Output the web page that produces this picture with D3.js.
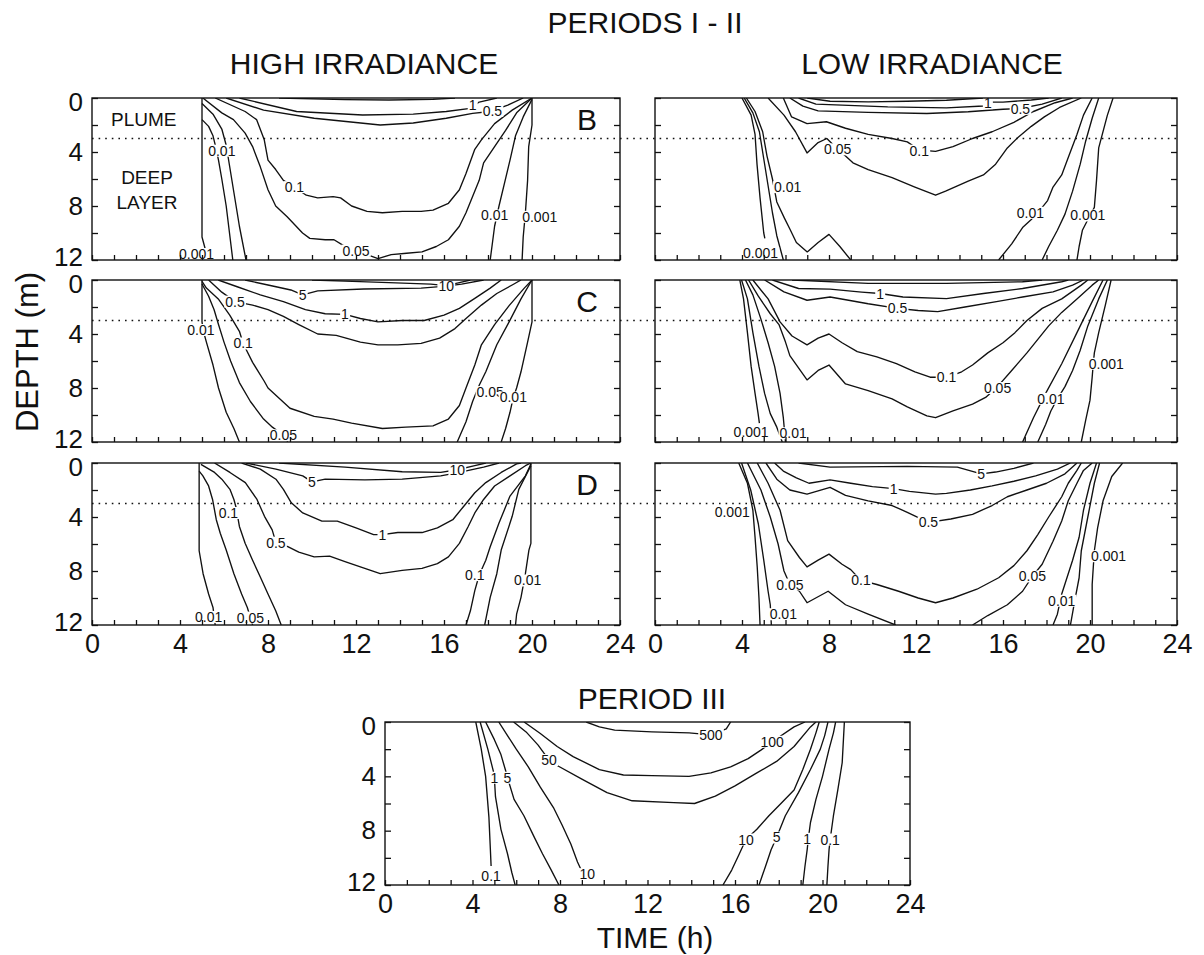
<!DOCTYPE html>
<html><head><meta charset="utf-8">
<script src="https://cdn.jsdelivr.net/npm/d3@7"></script>
<style>body{margin:0;background:#fff;} svg{display:block;}</style>
</head><body><svg id="chart" width="1204" height="955"></svg>
<script>
// ---------- axis data ----------
const timeTicks = d3.range(0, 25);
const timeLabels = [0, 4, 8, 12, 16, 20, 24];
const depthTicks = [0, 2, 4, 6, 8, 10, 12];
const depthLabels = [0, 4, 8, 12];
const plumeDepth = 3;

// ---------- contour data: points are [time (h), depth (m)] ----------
const contoursB_high = [
  {level:"0.001", pts:[[5,0],[5,10.3],[5.15,11.2],[5.25,12]], lab:[4.75,11.55]},
  {level:"0.01", pts:[[5,1.6],[5.3,2.1],[5.5,2.8],[5.62,3.6],[5.75,4.6],[5.9,6],[6.1,8],[6.25,10],[6.4,12]], lab:[5.9,3.9]},
  {level:"", pts:[[5,0.4],[5.5,1.2],[5.9,2.3],[6.1,3.5],[6.25,5],[6.45,7],[6.7,9.5],[7.0,12]], lab:null},
  {level:"0.05", pts:[[5.04,0],[5.9,1.1],[6.43,1.6],[6.96,2.6],[7.3,3.6],[7.65,5.1],[8.0,6.8],[8.35,8.0],[8.87,8.8],[9.57,10.0],[9.9,10.4],[10.6,10.5],[11.0,10.5],[11.4,10.9],[12.0,11.3],[13.0,11.9],[13.6,11.6],[14.3,11.5],[15.0,11.4],[15.65,11.0],[16.2,10.5],[16.7,9.5],[17.0,8.5],[17.3,7.3],[17.6,6.1],[17.8,4.8],[18.3,3.6],[18.8,2.4],[19.3,1.1],[20,0]], lab:[12.0,11.3]},
  {level:"0.1", pts:[[5.6,0],[6.96,1.0],[7.48,1.6],[7.83,3.1],[8.0,4.6],[8.35,5.3],[8.7,6.1],[9.2,6.6],[9.74,7.2],[10.26,7.4],[10.96,7.3],[11.3,7.4],[11.8,8.0],[12.5,8.4],[13.2,8.5],[14.1,8.4],[14.96,8.4],[15.5,8.3],[16.2,7.8],[16.7,6.8],[17.0,5.6],[17.4,3.8],[17.7,3.1],[18.3,1.9],[19.1,0.9],[20,0]], lab:[9.2,6.6]},
  {level:"0.5", pts:[[6.1,0],[7.8,0.9],[10.1,1.5],[13.1,2.0],[14.6,1.85],[16.1,1.5],[17.3,1.14],[18.1,1.0],[18.9,0.52],[19.6,0]], lab:[18.2,0.95]},
  {level:"1", pts:[[6.7,0],[9.3,1.0],[12.3,1.26],[14.6,1.2],[16.1,1.0],[17.2,0.77],[17.6,0.3],[18.4,0]], lab:[17.3,0.5]},
  {level:"", pts:[[8.5,0],[11.5,0.12],[13.5,0.15],[15.5,0.1],[16.5,0]], lab:null},
  {level:"0.01", pts:[[20,0.1],[19.6,1.4],[19.25,2.8],[19.0,4.6],[18.75,6.3],[18.5,8.0],[18.3,9.5],[18.1,12]], lab:[18.3,8.7]},
  {level:"0.001", pts:[[20,0],[20,2],[19.85,3.6],[19.8,6.1],[19.7,8.5],[19.6,10.3],[19.55,12]], lab:[20.35,8.8]}
];

const contoursB_low = [
  {level:"0.001", pts:[[4.0,0],[4.42,1.27],[4.6,2.7],[4.69,4.9],[4.83,7.4],[5.0,10.0],[5.05,10.4]], lab:[4.85,11.5]},
  {level:"", pts:[[4.1,0],[4.5,1.1],[4.8,2.5],[5.0,4.5],[5.2,6.5],[5.4,8.5],[5.6,10.2],[5.9,12]], lab:null},
  {level:"0.01", pts:[[4.2,0],[4.6,1.0],[4.95,2.5],[5.15,4.3],[5.4,6.0],[5.6,7.7],[5.95,8.9],[6.2,9.7],[6.5,10.7],[7.0,11.4],[7.5,10.7],[8.0,10.1],[8.5,11.0],[9.0,12]], lab:[6.1,6.6]},
  {level:"0.05", pts:[[5.2,0],[5.93,1.27],[6.46,2.5],[6.99,4.07],[7.5,3.3],[7.9,3.0],[8.4,3.8],[8.76,4.3],[9.1,4.8],[9.8,5.3],[10.9,5.9],[11.95,6.6],[12.9,7.2],[13.36,6.9],[14.4,6.15],[15.1,5.7],[15.66,4.9],[16.2,3.7],[16.7,2.9],[17.3,2.1],[17.9,1.4],[18.6,0.7],[19.6,0]], lab:[8.4,3.8]},
  {level:"0.1", pts:[[5.9,0],[6.28,1.4],[6.99,1.9],[7.88,1.76],[8.76,2.24],[9.8,2.7],[10.9,3.0],[11.6,3.25],[12.15,3.85],[12.9,3.95],[13.7,3.6],[14.6,3.0],[15.5,2.5],[16.5,1.8],[17.4,1.0],[18.4,0.35],[19.2,0]], lab:[12.15,3.9]},
  {level:"0.5", pts:[[6.2,0],[6.8,0.6],[7.5,0.95],[9.8,1.07],[12.5,1.15],[14.4,1.02],[16.0,0.83],[16.8,0.78],[17.8,0.45],[18.7,0]], lab:[16.8,0.8]},
  {level:"1", pts:[[6.6,0],[7.4,0.45],[10.7,0.66],[13.4,0.73],[15.1,0.59],[15.3,0.3],[16,0.3],[17.3,0.15],[18.1,0]], lab:[15.3,0.38]},
  {level:"", pts:[[7.0,0],[8.05,0.24],[9.8,0.29],[11.6,0.24],[13.4,0.17],[15.1,0]], lab:null},
  {level:"0.01", pts:[[20.1,0],[19.7,1.27],[19.4,2.7],[19.0,4.4],[18.7,5.7],[18.3,6.6],[18.05,7.6],[17.7,8.3],[17.3,9.0],[16.9,9.6],[16.4,10.8],[15.8,12]], lab:[17.26,8.5]},
  {level:"", pts:[[20.4,0],[20.1,1.5],[19.8,3.2],[19.55,4.9],[19.2,6.9],[18.85,8.6],[18.5,9.8],[18.1,11],[17.8,12]], lab:null},
  {level:"0.001", pts:[[21.06,0],[20.8,1.27],[20.4,3.7],[20.3,6.1],[20.2,8.1],[20.0,8.7],[19.65,9.8],[19.5,11],[19.4,12]], lab:[19.9,8.7]}
];

const contoursC_high = [
  {level:"0.01", pts:[[5,0],[5,3.1],[5.05,3.7],[5.2,4.6],[5.5,6.3],[5.75,8],[6.1,9.8],[6.45,11],[6.7,12]], lab:[4.95,3.7]},
  {level:"0.05", pts:[[5.0,0.3],[5.3,1.2],[5.55,2.2],[5.75,3.3],[6.0,4.6],[6.3,6],[6.7,7.6],[7.2,9],[7.8,10.3],[8.2,10.9],[8.7,11.5],[8.9,12]], lab:[8.7,11.5]},
  {level:"0.1", pts:[[5.0,0.1],[5.2,0.6],[5.74,1.4],[6.26,2.6],[6.7,3.8],[6.87,4.7],[7.3,6.1],[7.83,7.5],[8.0,8.0],[9.0,9.5],[10.1,10.1],[10.96,10.3],[11.8,10.6],[13.2,11.0],[14.26,10.9],[15.5,10.8],[16.2,10.3],[16.7,9.3],[17.0,8.0],[17.4,6.3],[17.7,4.8],[18.3,3.3],[18.96,1.9],[19.65,0.6],[20,0]], lab:[6.87,4.7]},
  {level:"0.5", pts:[[5.3,0],[5.9,0.9],[6.5,1.6],[7.3,1.86],[8.0,2.2],[8.7,2.7],[9.4,3.3],[10.26,4.0],[11.1,4.1],[12.2,4.6],[13.0,4.8],[13.9,4.8],[14.96,4.7],[15.8,4.3],[16.5,3.6],[17.0,2.85],[17.7,1.86],[18.4,1.0],[19.1,0.37],[19.5,0]], lab:[6.5,1.6]},
  {level:"1", pts:[[5.74,0],[6.6,0.5],[7.65,1.1],[8.7,1.6],[9.7,2.2],[10.6,2.5],[11.5,2.55],[12.2,2.85],[13.0,3.1],[14.1,3.0],[15.1,3.0],[16.0,2.6],[16.7,2.1],[17.4,1.36],[18.1,0.6],[18.6,0]], lab:[11.5,2.55]},
  {level:"5", pts:[[6.96,0],[8.0,0.37],[9.04,0.74],[9.57,1.1],[10.26,0.8],[12.35,0.67],[14.96,0.6],[16.1,0.45],[16.8,0.3],[17.8,0]], lab:[9.57,1.1]},
  {level:"10", pts:[[10,0],[11.5,0.08],[13.5,0.2],[15.4,0.3],[16.1,0.42],[16.7,0.2],[17.2,0]], lab:[16.1,0.45]},
  {level:"0.05", pts:[[20,0],[19.5,1.4],[18.96,3.1],[18.4,4.8],[17.9,6.8],[17.6,7.8],[17.3,9.0],[17.0,10.5],[16.6,12]], lab:[18.1,8.3]},
  {level:"0.01", pts:[[20,0],[20,3.1],[19.8,4.6],[19.5,6.8],[19.3,8.0],[19.15,8.7],[19.0,9.8],[18.8,11],[18.6,12]], lab:[19.15,8.7]}
];

const contoursC_low = [
  {level:"0.001", pts:[[3.9,0],[4.07,1.4],[4.25,3.9],[4.42,6.4],[4.6,8.4],[4.74,9.9],[4.8,10.6]], lab:[4.42,11.25]},
  {level:"0.01", pts:[[3.98,0],[4.25,1.4],[4.5,3.9],[4.78,6.4],[5.04,8.4],[5.3,9.9],[5.6,10.9],[5.85,12]], lab:[6.35,11.35]},
  {level:"", pts:[[4.16,0],[4.5,1.1],[4.87,2.9],[5.2,4.65],[5.5,6.4],[5.75,8.4],[5.9,10.2],[6.0,12]], lab:null},
  {level:"0.05", pts:[[4.3,0],[4.75,1.2],[5.3,2.5],[5.7,3.3],[6.0,4.6],[6.2,5.6],[6.46,6.2],[6.99,7.4],[7.5,6.7],[8.0,6.3],[8.76,7.7],[9.8,8.2],[10.9,8.8],[11.6,9.4],[12.5,10.06],[12.9,10.2],[13.7,9.7],[14.6,9.2],[15.2,8.7],[15.75,7.9],[16.4,6.7],[17.1,5.4],[17.6,4.4],[18.1,3.4],[18.7,2.4],[19.4,1.4],[20.1,0.38],[20.4,0]], lab:[15.75,8.0]},
  {level:"0.1", pts:[[4.5,0],[5.2,1.4],[5.75,3.1],[6.3,4.15],[6.99,4.8],[7.5,4.3],[8.0,4.0],[8.6,4.65],[9.3,5.3],[10.2,5.7],[11.1,6.2],[11.95,6.8],[12.65,7.2],[13.45,7.2],[14.1,6.8],[14.6,6.3],[15.3,5.4],[16.0,4.65],[16.55,3.9],[17.1,3.0],[17.8,2.1],[18.7,1.4],[19.6,0.38],[19.9,0]], lab:[13.4,7.2]},
  {level:"0.5", pts:[[5.04,0],[5.93,0.88],[6.99,1.5],[8.05,1.26],[8.9,1.5],[9.8,1.76],[11.15,2.1],[12.1,2.26],[13.0,2.34],[14.25,2.0],[15.7,1.6],[16.9,1.26],[18.3,0.88],[19.2,0.38],[19.7,0]], lab:[11.15,2.1]},
  {level:"1", pts:[[5.4,0],[6.6,0.63],[8.05,0.68],[9.5,0.9],[10.35,1.0],[11.4,1.26],[13.4,1.38],[15.1,1.0],[16.9,0.63],[18.7,0.13],[19.0,0]], lab:[10.35,1.0]},
  {level:"", pts:[[6.3,0],[9.8,0.25],[13.4,0.25],[16.9,0.13],[17.8,0]], lab:null},
  {level:"0.01", pts:[[20.8,0],[20.4,1.4],[19.9,3.4],[19.55,5.2],[19.2,6.7],[18.85,7.9],[18.5,8.8],[18.2,9.7],[17.96,10.7],[17.6,12]], lab:[18.2,8.8]},
  {level:"", pts:[[20.6,0],[20.1,1.6],[19.4,3.9],[18.7,6.2],[17.96,8.4],[17.4,10.2],[16.9,12]], lab:null},
  {level:"0.001", pts:[[20.97,0],[20.7,1.9],[20.4,3.9],[20.2,5.4],[20.15,6.2],[20.1,7.2],[20.0,8.9],[19.8,10.4],[19.6,12]], lab:[20.75,6.2]}
];

const contoursD_high = [
  {level:"0.01", pts:[[4.87,0],[4.87,6.5],[5.05,8.2],[5.3,9.7],[5.5,10.7],[5.6,12]], lab:[5.3,11.4]},
  {level:"0.05", pts:[[4.87,0.6],[5.04,0.95],[5.3,1.7],[5.48,2.7],[5.65,4.2],[5.83,5.2],[6.1,6.45],[6.45,8.2],[6.8,9.7],[7.06,10.7],[7.3,12]], lab:[7.2,11.45]},
  {level:"0.1", pts:[[4.95,0.1],[5.57,0.7],[5.9,1.2],[6.27,1.95],[6.45,2.7],[6.55,3.3],[6.7,4.7],[6.96,5.95],[7.3,7.2],[7.65,8.45],[8.0,9.7],[8.35,10.95],[8.6,12]], lab:[6.2,3.7]},
  {level:"0.5", pts:[[5.57,0],[6.27,0.7],[6.97,1.45],[7.5,2.7],[7.84,3.95],[8.19,4.95],[8.36,5.9],[8.9,6.2],[9.4,6.6],[10.1,6.95],[10.8,6.9],[11.5,7.3],[12.4,7.8],[13.1,8.2],[14.1,7.95],[15.0,7.8],[15.7,7.45],[16.2,6.95],[16.7,5.95],[17.1,4.7],[17.4,3.7],[17.8,2.7],[18.3,1.7],[19.0,0.95],[19.7,0.2],[19.95,0]], lab:[8.36,5.9]},
  {level:"1", pts:[[6.8,0],[7.65,0.45],[8.36,1.2],[8.7,1.95],[9.06,2.95],[9.58,3.7],[10.45,4.3],[11.15,4.3],[12.0,4.8],[12.8,5.3],[13.2,5.3],[13.9,5.15],[15.0,5.15],[15.7,4.8],[16.4,4.2],[16.9,3.2],[17.4,2.2],[17.9,1.45],[18.6,0.7],[19.3,0.07],[19.5,0]], lab:[13.2,5.3]},
  {level:"5", pts:[[7.0,0],[8.36,0.45],[9.58,0.95],[10.0,1.4],[10.6,1.2],[12.4,1.25],[14.1,1.2],[15.85,0.95],[16.7,0.7],[17.8,0.3],[18.5,0]], lab:[10.0,1.4]},
  {level:"10", pts:[[8.5,0],[11.5,0.3],[14.1,0.65],[15.85,0.7],[16.6,0.5],[17.4,0.2],[17.9,0]], lab:[16.6,0.5]},
  {level:"0.1", pts:[[19.95,0.07],[19.7,0.95],[19.0,2.45],[18.5,4.45],[18.1,6.2],[17.9,7.2],[17.6,8.3],[17.4,9.45],[17.2,10.95],[17.0,12]], lab:[17.4,8.3]},
  {level:"", pts:[[19.95,0.2],[19.4,1.95],[19.1,3.95],[18.6,6.45],[18.4,8.2],[18.1,9.95],[17.85,12]], lab:null},
  {level:"0.01", pts:[[19.95,0],[19.95,5.95],[19.86,6.45],[19.7,8.2],[19.5,9.95],[19.3,11.2],[19.25,12]], lab:[19.8,8.7]}
];

const contoursD_low = [
  {level:"0.001", pts:[[3.85,0],[4.25,1.5],[4.5,3.5],[4.6,5.5],[4.7,7.7],[4.78,10],[4.83,12]], lab:[3.55,3.65]},
  {level:"0.01", pts:[[3.98,0],[4.4,2],[4.75,4.5],[5.0,7.2],[5.2,9.5],[5.3,10.5],[5.35,12]], lab:[5.9,11.2]},
  {level:"0.05", pts:[[4.25,0],[4.87,2.0],[5.3,4.0],[5.66,6.0],[5.93,8.0],[6.2,9.0],[6.64,9.5],[6.99,10.35],[7.96,9.5],[8.76,10.5],[9.8,11.2],[11.06,12]], lab:[6.2,9.0]},
  {level:"0.05", pts:[[14.6,12],[15.3,11.3],[16.2,10.5],[16.9,9.5],[17.35,8.4],[17.8,7.5],[18.3,5.8],[18.7,4.3],[19.0,2.8],[19.4,1.5],[19.7,0.55],[20.1,0]], lab:[17.35,8.4]},
  {level:"0.1", pts:[[4.7,0],[5.2,1.5],[5.75,3.5],[6.1,5.75],[6.64,7.0],[6.99,7.7],[7.5,7.2],[8.0,6.75],[8.6,7.5],[9.0,7.9],[9.47,8.7],[10.2,9.0],[11.2,9.5],[12.1,10],[12.9,10.35],[13.7,10],[14.8,9.35],[15.8,8.5],[16.5,7.6],[17.1,6.5],[17.6,5.3],[18.1,4.0],[18.7,2.5],[19.0,1.5],[19.4,0.55],[19.6,0]], lab:[9.47,8.7]},
  {level:"0.5", pts:[[5.1,0],[5.6,1.2],[6.2,2.0],[6.99,2.3],[8.05,1.8],[8.76,2.4],[9.8,2.8],[10.9,3.15],[11.6,3.65],[12.57,4.4],[13.6,4.15],[14.6,3.8],[15.5,3.15],[16.2,2.5],[17.1,2.0],[18.0,1.5],[18.85,0.8],[19.4,0]], lab:[12.57,4.4]},
  {level:"1", pts:[[5.5,0],[5.9,0.6],[6.5,1.1],[7.08,1.5],[8.05,1.25],[9.0,1.5],[10.0,1.75],[10.97,1.9],[11.7,2.1],[12.9,2.3],[13.4,2.25],[14.5,2.0],[15.5,1.7],[16.5,1.35],[17.5,0.95],[18.5,0.45],[19.1,0]], lab:[10.97,1.9]},
  {level:"5", pts:[[6.6,0],[8.05,0.3],[11.6,0.25],[13.9,0.3],[15.0,0.8],[15.66,0.67],[16.5,0.4],[17.4,0]], lab:[15.0,0.8]},
  {level:"0.01", pts:[[20.3,0],[20.0,1.5],[19.7,3.5],[19.5,5.5],[19.2,7.2],[18.9,8.7],[18.7,9.7],[18.5,11.2],[18.3,12]], lab:[18.7,10.2]},
  {level:"", pts:[[20.44,0],[20.2,1.5],[19.9,4.0],[19.6,6.5],[19.5,8.5],[19.3,10.2],[19.1,12]], lab:null},
  {level:"0.001", pts:[[21.5,0],[21.0,1.0],[20.6,2.8],[20.35,4.8],[20.2,6.5],[20.1,9.0],[20.1,12]], lab:[20.85,6.9]}
];

const contoursIII = [
  {level:"0.1", pts:[[4.15,0],[4.4,2],[4.6,4],[4.75,7],[4.82,9.5],[4.85,10.6]], lab:[4.85,11.3]},
  {level:"1", pts:[[4.35,0],[4.7,2],[4.95,3.6],[5.0,4.1],[5.05,5.5],[5.3,7.9],[5.6,9.7],[5.8,11.1],[5.95,12]], lab:[5.0,4.1]},
  {level:"5", pts:[[4.6,0],[5.0,1.3],[5.3,2.4],[5.5,3.5],[5.6,4.1],[5.9,5.7],[6.35,6.9],[6.8,8.4],[7.2,9.7],[7.6,10.9],[7.95,12]], lab:[5.6,4.1]},
  {level:"10", pts:[[5.2,0],[5.6,1.0],[6.0,2.0],[6.55,3.3],[7.1,4.8],[7.7,6.3],[8.1,7.6],[8.5,9.0],[8.8,10.3],[9.0,11.0]], lab:[9.25,11.2]},
  {level:"50", pts:[[5.88,0],[6.45,0.73],[7.0,1.7],[7.5,2.8],[7.87,3.2],[9.0,4.2],[10.15,5.2],[11.3,5.8],[13.2,5.94],[14.15,6.0],[15.1,5.45],[16.0,4.7],[17.0,3.75],[17.9,2.9],[18.7,1.8],[19.45,0.36],[19.7,0]], lab:[7.5,2.8]},
  {level:"100", pts:[[6.36,0],[7.1,0.85],[7.87,1.8],[8.6,2.55],[9.8,3.5],[10.9,3.9],[12.2,3.95],[13.9,4.0],[14.9,3.75],[15.8,3.3],[16.6,2.7],[17.2,2.05],[17.7,1.45],[18.7,0.36],[19.2,0]], lab:[17.7,1.45]},
  {level:"500", pts:[[9.2,0],[9.8,0.36],[10.5,0.6],[12.2,0.73],[13.9,0.8],[14.9,0.95],[15.6,0.5],[15.8,0]], lab:[14.9,0.95]},
  {level:"10", pts:[[15.45,12],[15.85,10.9],[16.2,9.7],[16.5,8.65],[17.0,7.9],[17.55,6.9],[18.1,6.0],[18.7,5.0],[19.1,3.5],[19.45,2.0],[19.7,0.8],[19.85,0]], lab:[16.5,8.65]},
  {level:"5", pts:[[17.1,12],[17.4,10.6],[17.65,9.4],[17.9,8.5],[18.3,6.9],[18.9,5.2],[19.45,3.5],[19.9,2.0],[20.1,1.0],[20.25,0]], lab:[17.9,8.5]},
  {level:"1", pts:[[19.1,12],[19.2,10.6],[19.3,9.4],[19.35,8.6],[19.45,7.4],[19.7,5.7],[20.0,4.0],[20.3,2.0],[20.5,0.8],[20.6,0]], lab:[19.3,8.6]},
  {level:"0.1", pts:[[20.2,12],[20.25,10.6],[20.3,9.4],[20.35,8.65],[20.5,6.9],[20.7,5.0],[20.9,3.0],[21.0,0]], lab:[20.35,8.65]}
];

// ---------- layout ----------
const FONT = '"Liberation Sans", Arial, Helvetica, sans-serif';
const INK = "#111";
const panels = [
  {id:"bh", data:contoursB_high, x:92,  y:98,  w:528, h:162, letter:"B", yLab:true,  xLab:false, plume:true},
  {id:"bl", data:contoursB_low,  x:655, y:98,  w:522, h:162, letter:null, yLab:false, xLab:false},
  {id:"ch", data:contoursC_high, x:92,  y:280, w:528, h:162, letter:"C", yLab:true,  xLab:false},
  {id:"cl", data:contoursC_low,  x:655, y:280, w:522, h:162, letter:null, yLab:false, xLab:false},
  {id:"dh", data:contoursD_high, x:92,  y:463, w:528, h:162, letter:"D", yLab:true,  xLab:true},
  {id:"dl", data:contoursD_low,  x:655, y:463, w:522, h:162, letter:null, yLab:false, xLab:true},
  {id:"p3", data:contoursIII,    x:385, y:722, w:525, h:163, letter:null, yLab:true,  xLab:true}
];

const svg = d3.select("#chart").style("font-family", FONT);

function styleAxis(a, fs) {
  a.select(".domain").remove();
  a.selectAll(".tick line").attr("stroke", INK).attr("stroke-width", 1.3);
  a.selectAll(".tick text").attr("fill", INK).attr("font-size", fs).attr("font-family", FONT);
}

panels.forEach(p => {
  const g = svg.append("g").attr("transform", `translate(${p.x},${p.y})`);
  const x = d3.scaleLinear().domain([0, 24]).range([0, p.w]);
  const y = d3.scaleLinear().domain([0, 12]).range([0, p.h]);
  p.xs = x; p.ys = y;
  const cid = "clip-" + p.id;
  g.append("clipPath").attr("id", cid).append("rect").attr("width", p.w).attr("height", p.h);
  const cg = g.append("g").attr("clip-path", `url(#${cid})`);
  const line = d3.line().x(d => x(d[0])).y(d => y(d[1]));
  cg.selectAll("path.contour").data(p.data).join("path")
    .attr("class", "contour").attr("d", d => line(d.pts))
    .attr("fill", "none").attr("stroke", INK).attr("stroke-width", 1.35)
    .attr("stroke-linejoin", "round");
  p.g = g; p.cg = cg;
});

// plume boundary dotted lines across each row
[0, 2, 4].forEach(i => {
  const p = panels[i], q = panels[i + 1];
  const yy = p.y + p.ys(plumeDepth);
  svg.append("line").attr("x1", p.x).attr("x2", q.x + q.w).attr("y1", yy).attr("y2", yy)
    .attr("stroke", INK).attr("stroke-width", 1.6).attr("stroke-dasharray", "1.6,5");
});

panels.forEach(p => {
  const x = p.xs, y = p.ys, g = p.g;
  // contour labels on a white patch that breaks the line
  const lg = p.cg.selectAll("g.clab").data(p.data.filter(d => d.lab)).join("g").attr("class", "clab");
  const bg = lg.append("rect").attr("fill", "#fff");
  const tx = lg.append("text")
    .attr("x", d => x(d.lab[0])).attr("y", d => y(d.lab[1]))
    .attr("text-anchor", "middle").attr("dy", "0.36em")
    .attr("font-size", 14).attr("fill", INK)
    .text(d => d.level);
  tx.each(function () {
    const b = this.getBBox();
    d3.select(this.parentNode).select("rect")
      .attr("x", b.x - 1).attr("y", b.y + 2).attr("width", b.width + 2).attr("height", b.height - 4);
  });
  // frame
  g.append("rect").attr("width", p.w).attr("height", p.h)
    .attr("fill", "none").attr("stroke", INK).attr("stroke-width", 1.4);
  // axes
  g.append("g").call(d3.axisLeft(y).tickValues(depthTicks).tickSize(-6).tickPadding(9)
      .tickFormat(d => p.yLab && depthLabels.includes(d) ? d : ""))
    .call(a => styleAxis(a, 26))
    .call(a => a.selectAll(".tick text").attr("dy", d => d === 0 ? "0.48em" : d === 12 ? "0.2em" : "0.32em"));
  g.append("g").attr("transform", `translate(${p.w},0)`)
    .call(d3.axisRight(y).tickValues(depthTicks).tickSize(-6).tickFormat(""))
    .call(a => styleAxis(a, 26));
  g.append("g").attr("transform", `translate(0,${p.h})`)
    .call(d3.axisBottom(x).tickValues(timeTicks).tickSize(-5).tickPadding(9)
      .tickFormat(d => p.xLab && timeLabels.includes(d) ? d : ""))
    .call(a => styleAxis(a, 27));
  if (p.letter) {
    g.append("text").attr("x", x(22.5)).attr("y", y(1.6)).attr("dy", "0.36em")
      .attr("text-anchor", "middle").attr("font-size", 30).attr("fill", INK).text(p.letter);
  }
  if (p.plume) {
    const t = [["PLUME", 2.35, 1.6], ["DEEP", 2.5, 5.85], ["LAYER", 2.5, 7.7]];
    t.forEach(([s, tx, ty]) => g.append("text").attr("x", x(tx)).attr("y", y(ty)).attr("dy", "0.36em")
      .attr("text-anchor", "middle").attr("font-size", 19).attr("fill", INK).text(s));
  }
});

// titles
const titles = [
  ["PERIODS I - II", 645, 22, 30],
  ["HIGH IRRADIANCE", 364, 63, 30],
  ["LOW IRRADIANCE", 932, 63, 30],
  ["PERIOD III", 652, 698, 30],
  ["TIME (h)", 655, 937, 30]
];
titles.forEach(([s, tx, ty, fs]) => svg.append("text").attr("x", tx).attr("y", ty).attr("dy", "0.36em")
  .attr("text-anchor", "middle").attr("font-size", fs).attr("fill", INK).text(s));
svg.append("text").attr("transform", "translate(27,352) rotate(-90)").attr("dy", "0.36em")
  .attr("text-anchor", "middle").attr("font-size", 31).attr("fill", INK).text("DEPTH (m)");
</script>
</body></html>
